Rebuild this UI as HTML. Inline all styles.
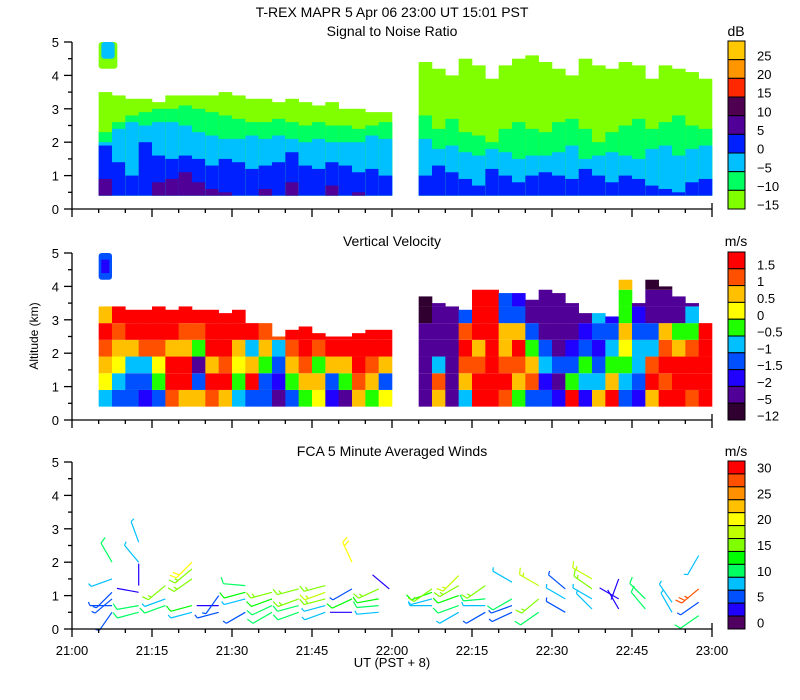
<!DOCTYPE html>
<html><head><meta charset="utf-8"><style>
body{margin:0;background:#fff;}
svg{display:block;font-family:"Liberation Sans",sans-serif;}
</style></head><body>
<svg id="chart" width="800" height="700" viewBox="0 0 800 700" xmlns="http://www.w3.org/2000/svg">
<rect width="800" height="700" fill="#fff"/>
<text x="392" y="17" font-size="14" text-anchor="middle">T-REX  MAPR  5 Apr 06  23:00 UT  15:01  PST</text>
<text x="392" y="36" font-size="14" text-anchor="middle">Signal to Noise Ratio</text>
<text x="392" y="246" font-size="14" text-anchor="middle">Vertical Velocity</text>
<text x="392" y="456" font-size="14" text-anchor="middle">FCA 5 Minute Averaged Winds</text>
<text x="0" y="0" font-size="12" text-anchor="middle" transform="translate(38,336) rotate(-90)">Altitude (km)</text>
<text x="392" y="667" font-size="13" text-anchor="middle">UT  (PST + 8)</text>
<g id="plots"></g>
</svg>
<script>
// ---- SNR data (column start minute, layer boundaries km) ----
const snrT = [5,7.5,10,12.5,15,17.5,20,22.5,25,27.5,30,32.5,35,37.5,40,42.5,45,47.5,50,52.5,55,57.5,
65,67.5,70,72.5,75,77.5,80,82.5,85,87.5,90,92.5,95,97.5,100,102.5,105,107.5,110,112.5,115,117.5];
const snrTop = [3.5,3.4,3.3,3.3,3.2,3.4,3.4,3.4,3.4,3.5,3.4,3.3,3.3,3.2,3.3,3.2,3.1,3.2,3.0,3.0,2.9,2.9,
4.4,4.2,4.0,4.5,4.3,3.9,4.3,4.5,4.6,4.4,4.2,4.0,4.5,4.3,4.2,4.4,4.3,3.9,4.3,4.2,4.1,3.9];
const snrLime = [2.3,2.6,2.8,2.9,3.0,3.0,3.1,3.0,2.9,2.8,2.7,2.6,2.6,2.7,2.6,2.5,2.6,2.5,2.5,2.4,2.5,2.6,
2.8,2.4,2.7,2.3,2.2,2.0,2.4,2.6,2.4,2.3,2.6,2.7,2.4,2.0,2.3,2.5,2.7,2.4,2.6,2.8,2.5,2.4];
const snrGreen = [2.0,2.4,2.6,2.5,2.6,2.6,2.5,2.3,2.2,2.1,2.1,2.2,2.1,2.2,2.1,2.0,2.1,2.0,2.0,2.0,2.2,2.1,
2.1,1.8,1.9,1.7,1.6,1.8,1.7,1.5,1.6,1.6,1.7,1.9,1.5,1.6,1.7,1.6,1.5,1.8,1.9,1.6,1.8,1.9];
const snrCyan = [1.9,1.4,1.0,2.0,1.6,1.5,1.6,1.5,1.3,1.5,1.4,1.2,1.3,1.4,1.7,1.3,1.2,1.4,1.3,1.1,1.2,1.0,
1.0,1.3,1.1,0.9,0.7,1.2,1.0,0.8,1.0,1.1,1.0,0.9,1.2,1.0,0.8,1.0,0.9,0.7,0.6,0.5,0.8,0.9];
const snrPurple = [0.9,0,0,0,0.8,0.9,1.1,0.8,0.6,0.5,0,0,0.6,0,0.8,0,0,0.7,0,0.5,0,0,
0,0,0,0,0,0,0,0,0,0,0,0,0,0,0,0,0,0,0,0,0,0];
const snrLevels = [25,20,15,10,5,0,-5,-10,-15];
const snrColors = ["#ffc800","#ff9600","#ff2800","#500050","#500096","#0020ff","#00c0ff","#00ff60","#80ff00"];

// ---- Vertical velocity data (m/s), bins bottom->top starting 0.4 km, 0.5 km each ----
const velT = snrT;
const velTop = [3.4,3.4,3.3,3.3,3.4,3.3,3.4,3.3,3.3,3.2,3.3,2.9,2.9,2.5,2.7,2.8,2.6,2.5,2.5,2.6,2.7,2.7,
3.7,3.5,3.4,3.3,3.9,3.9,3.8,3.8,3.6,3.9,3.8,3.5,3.2,3.2,3.1,4.2,3.5,4.2,4.0,3.7,3.5,2.9];
const velVals = [
[-1,0.2,0.7,1,1.5,0.5],[-1.5,-1,0,0.7,1,1.5],[-1.5,-1.2,-0.7,0.5,1.6,1.6],[-1.8,-1.2,-0.7,1.1,1.6,1.6],
[-1.2,-0.5,0.3,1.0,1.6,1.6],[1,1.6,1.6,0.6,1.6,1.6],[0.6,1.6,1.6,0.7,1.0,1.6],[0.5,-1.2,-5,-0.5,1.2,1.6],
[1,1.6,0.7,1.6,1.6,1.6],[0.5,1.6,1.2,1.6,1.6,1.6],[-1,-0.5,0.2,0.7,1.6,1.6],[-1.2,1.6,0.5,-0.7,1.6,1.6],
[-1.5,-1.2,-0.5,0.7,1.0,1.6],[-5,-1.8,-1.2,-0.7,1.0,1.0],[-1.5,-0.5,0.5,1.1,1.6,1.6],[-0.5,0.6,1.0,1.6,1.6,1.6],
[0.3,0.7,-0.5,1.0,1.6,1.6],[-2,-1.2,0.5,1.6,1.6,1.6],[-5,-0.5,0.7,1.6,1.6,1.6],[0.7,1.1,1.6,1.6,1.6,1.6],
[-0.5,0.6,1.0,1.6,1.6,1.6],[0.3,-1.2,0.7,1.6,1.6,1.6],
[-5,-5,-5,-5,-5,-12,-12],[0.5,1.0,-1,-5,-5,-5,-5],[-5,-5,-5,-5,-5,-5],[-1,0.5,1.0,1.6,1.0,-1.2],
[1.6,1.6,1.0,0.5,1.6,1.6,1.6],[1.6,1.6,1.6,1.6,1.6,1.6,1.6],[1.0,1.6,1.2,0.7,0.5,-1.2,-1.5],[-0.5,0.6,1.0,1.6,0.7,-1.2,-2],
[-1.2,1.0,0.5,-0.5,-1.5,-5,-5],[-1.5,-2,-1.0,-1.5,-5,-5,-5],[-2,-5,-1.2,-5,-5,-5,-5],[1.6,-0.5,-1.5,-2,-5,-5,-5],
[-2,-1,-0.5,-1.5,-2,-5],[0.5,-1,-1.5,-2,-1.5,-1.0],[1.6,0.5,-0.5,-1,-1.2,-2],[-1.5,-1,-0.5,0,0.5,-0.5,-0.5,0.5],
[-2,-1.5,-1,-1,-1.5,-2,-5],[0.7,1.6,1.0,-1,-1.5,-5,-5,-12],[1.6,1.0,1.6,1.0,0.5,-5,-5,-12],[1.6,1.6,1.6,0.7,-0.5,-5,-5],
[1.0,1.6,1.6,1.0,-0.5,-1.0,-5],[1.6,1.6,1.6,1.6,1.6,1.0]
];
const velLevels = [1.5,1,0.5,0,-0.5,-1,-1.5,-2,-5,-12];
const velColors = ["#ff0000","#ff5000","#ffc000","#ffff00","#20ff00","#00c0ff","#0050ff","#2000ff","#500096","#300030"];

// ---- Winds (station minute, altitude km, speed m/s, direction deg) ----
const windT = [7.5,7.5,7.5,7.5,7.5,7.5, 12.5,12.5,12.5,12.5,12.5,12.5, 17.5,17.5,17.5, 22.5,22.5,22.5,22.5,22.5, 27.5,27.5,27.5,
32.5,32.5,32.5,32.5, 37.5,37.5,37.5,37.5, 42.5,42.5,42.5,42.5, 47.5,47.5,47.5,47.5,47.5, 52.5,52.5,52.5,52.5, 57.5,57.5,57.5,57.5, 59.5,
67.5,67.5,67.5,67.5, 72.5,72.5,72.5,72.5,72.5, 77.5,77.5,77.5,77.5, 82.5,82.5,82.5,82.5, 87.5,87.5,87.5,
92.5,92.5,92.5, 97.5,97.5,97.5,97.5, 102.5,102.5,102.5, 107.5,107.5, 112.5,112.5, 117.5,117.5,117.5,117.5];
const windZ = [0.5,0.7,0.9,1.1,1.5,2.0, 0.5,0.7,1.1,1.3,2.0,2.6, 0.7,0.9,1.3, 0.5,0.7,1.5,1.8,2.0, 0.5,0.7,1.0,
0.5,0.9,1.1,1.3, 0.5,0.7,0.9,1.1, 0.5,0.7,0.9,1.2, 0.5,0.7,0.9,1.1,1.3, 0.5,0.9,1.2,2.0, 0.5,0.7,0.9,1.2, 1.2,
0.7,0.9,1.1,1.2, 0.5,0.7,1.0,1.3,1.6, 0.5,0.7,0.9,1.3, 0.5,0.7,0.9,1.4, 0.5,0.9,1.3,
0.5,0.9,1.2, 0.6,0.9,1.2,1.5, 0.6,0.9,1.5, 0.6,0.9, 0.5,0.8, 0.4,0.8,1.2,2.2];
const windS = [6,5,6,6,8,12, 12,12,4,4,8,9, 11,8,17, 8,13,15,17,20, 5,4,5,
7,8,13,10, 12,12,13,16, 11,12,15,17, 8,9,16,18,15, 4,13,5,20, 8,12,13,15, 4,
8,8,13,17, 8,12,13,15,18, 7,8,10,16, 5,5,12,8, 12,17,18,
6,8,5, 9,8,15,19, 4,4,4, 11,12, 8,8, 12,5,28,9];
const windD = [215,270,230,225,250,330, 255,260,280,0,320,340, 250,250,230, 255,255,235,230,225, 255,270,215,
240,255,255,275, 240,245,250,255, 250,255,250,255, 250,255,255,250,255, 270,245,240,335, 265,265,260,245, 310,
270,255,250,235, 240,250,250,240,225, 240,270,265,235, 245,250,240,300, 235,230,300,
300,300,310, 315,300,305,300, 330,300,200, 320,315, 330,325, 235,235,230,210];
const windLevels = [30,27.5,25,22.5,20,17.5,15,12.5,10,7.5,5,2.5,0];
const windColors = ["#ff0000","#ff5000","#ff9000","#ffc000","#ffff00","#c0ff00","#80ff00","#00ff00","#00ff60","#00c0ff","#0050ff","#2000ff","#500060"];

const NS = "http://www.w3.org/2000/svg";
const G = document.getElementById('plots');
const X0 = 72, X1 = 712, KM = 33.4;
const panels = [{y0:209,name:'snr'},{y0:420,name:'velocity'},{y0:629,name:'winds'}];
function xOf(t){return X0 + t*(X1-X0)/120;}
function yOf(p,z){return panels[p].y0 - z*KM;}
function mk(tag, attrs, parent){const e=document.createElementNS(NS,tag);for(const k in attrs)e.setAttribute(k,attrs[k]);(parent||G).appendChild(e);return e;}
function colorFor(v, levels, colors){for(let i=0;i<levels.length;i++){if(v>=levels[i])return colors[i];}return colors[colors.length-1];}

// SNR panel
const gs = mk('g',{});


function band(p, t, z0, z1, col, g){ if(z1<=z0) return; const r=mk('rect',{x:xOf(t),y:yOf(p,z1),width:xOf(t+2.5)-xOf(t)+0.3,height:(z1-z0)*KM,fill:col},g);

 }
snrT.forEach((t,i)=>{
  const bot=0.4;
  band(0,t,bot,snrTop[i],colorFor(-15,snrLevels,snrColors),gs);
  band(0,t,bot,snrLime[i],colorFor(-10,snrLevels,snrColors),gs);
  band(0,t,bot,snrGreen[i],colorFor(-5,snrLevels,snrColors),gs);
  band(0,t,bot,snrCyan[i],colorFor(0,snrLevels,snrColors),gs);
  if(snrPurple[i]>bot) band(0,t,bot,snrPurple[i],colorFor(5,snrLevels,snrColors),gs);
});
const blobT=[5,8.5], blobZ=[4.2,5];
mk('rect',{x:xOf(blobT[0]),y:yOf(0,blobZ[1]),width:xOf(blobT[1])-xOf(blobT[0]),height:(blobZ[1]-blobZ[0])*KM,fill:snrColors[8],rx:3},gs);
mk('rect',{x:xOf(blobT[0]+0.5),y:yOf(0,blobZ[1]),width:xOf(blobT[1]-0.5)-xOf(blobT[0]+0.5),height:(blobZ[1]-blobZ[0]-0.3)*KM,fill:snrColors[6],rx:3},gs);

// Velocity panel
const gv = mk('g',{});


velT.forEach((t,i)=>{
  velVals[i].forEach((v,j)=>{
    const z0=0.4+j*0.5; let z1=z0+0.5; if(z0>=velTop[i])return; if(z1>velTop[i]) z1=velTop[i];
    band(1,t,z0,z1,colorFor(v,velLevels,velColors),gv);
  });
});
mk('rect',{x:xOf(5),y:yOf(1,5),width:xOf(7.5)-xOf(5),height:0.8*KM,fill:velColors[6],rx:3},gv);
mk('rect',{x:xOf(5.5),y:yOf(1,4.8),width:xOf(7)-xOf(5.5),height:0.4*KM,fill:velColors[7]},gv);

// Winds panel
const gw = mk('g',{});


windT.forEach((t,i)=>{
  const col=colorFor(windS[i],windLevels,windColors);
  const x=xOf(t), y=yOf(2,windZ[i]); const a=windD[i]*Math.PI/180;
  const ux=Math.sin(a), uy=-Math.cos(a); const L=22;
  const ex=x+ux*L, ey=y+uy*L;
  let d=`M${x.toFixed(1)},${y.toFixed(1)}L${ex.toFixed(1)},${ey.toFixed(1)}`;
  const nx=-uy, ny=ux;
  let full=Math.floor(windS[i]/10), half=(windS[i]%10)>=5?1:0; let k=0;
  for(;k<full;k++){const bx=ex-ux*k*4, by=ey-uy*k*4; d+=`M${bx.toFixed(1)},${by.toFixed(1)}l${((nx*0.9+ux*0.4)*7).toFixed(1)},${((ny*0.9+uy*0.4)*7).toFixed(1)}`;}
  if(half){const bx=ex-ux*k*4, by=ey-uy*k*4; d+=`M${bx.toFixed(1)},${by.toFixed(1)}l${((nx*0.9+ux*0.4)*4).toFixed(1)},${((ny*0.9+uy*0.4)*4).toFixed(1)}`;}
  const p=mk('path',{d:d,stroke:col,'stroke-width':1.2,fill:'none'},gw);
  
  
});

// Axes
const ticksMin=[0,5,10,15,20,25,30,35,40,45,50,55,60,65,70,75,80,85,90,95,100,105,110,115,120];
const xLabels=["21:00","21:15","21:30","21:45","22:00","22:15","22:30","22:45","23:00"];
const yLabels=["0","1","2","3","4","5"];
panels.forEach((pn,p)=>{
  const ax=mk('g',{stroke:'#000','stroke-width':1.3,fill:'none'});
  
  
  mk('path',{d:`M${X0},${yOf(p,5)}V${pn.y0}H${X1}`},ax);
  for(let z=0;z<=5;z+=0.5){const y=yOf(p,z);mk('path',{d:`M${X0},${y}h${z%1===0?-8:-4}`},ax);}
  ticksMin.forEach(m=>{const x=xOf(m);mk('path',{d:`M${x},${pn.y0}v${m%15===0?8:4}`},ax);});
  mk('path',{d:`M${X1},${pn.y0}v-6`},ax);
  yLabels.forEach((l,j)=>{const t=mk('text',{x:X0-13,y:yOf(p,j)+5,'font-size':13,'text-anchor':'end',fill:'#000'});t.textContent=l;
    
    });
});
xLabels.forEach((l,j)=>{const t=mk('text',{x:xOf(j*15),y:655,'font-size':13,'text-anchor':'middle',fill:'#000'});t.textContent=l;
  
  });

// Colorbars
function colorbar(name,top,bot,colors,labels,unit,unitY,labelOffsets){
  const g=mk('g',{});
  
  
  const h=(bot-top)/colors.length;
  colors.forEach((c,i)=>{mk('rect',{x:728,y:top+i*h,width:17,height:h,fill:c,stroke:'#000','stroke-width':1},g);});
  labels.forEach((l,i)=>{const t=mk('text',{x:757,y:labelOffsets(i,h,top),'font-size':13,fill:'#000'},g);t.textContent=l;});
  const u=mk('text',{x:736,y:unitY,'font-size':14,'text-anchor':'middle',fill:'#000'},g);u.textContent=unit;
}
colorbar('snr-colorbar',41,209,snrColors,["25","20","15","10","5","0","\u22125","\u221210","\u221215"],'dB',36,(i,h,top)=>top+i*h+h*0.5+10);
colorbar('velocity-colorbar',252,420,velColors,["1.5","1","0.5","0","\u22120.5","\u22121","\u22121.5","\u22122","\u22125","\u221212"],'m/s',246,(i,h,top)=>top+i*h+h*0.5+9);
colorbar('wind-colorbar',461,629,windColors,["30","25","20","15","10","5","0"],'m/s',456,(i,h,top)=>top+(2*i+0.5)*h+5);
</script>
</body></html>
